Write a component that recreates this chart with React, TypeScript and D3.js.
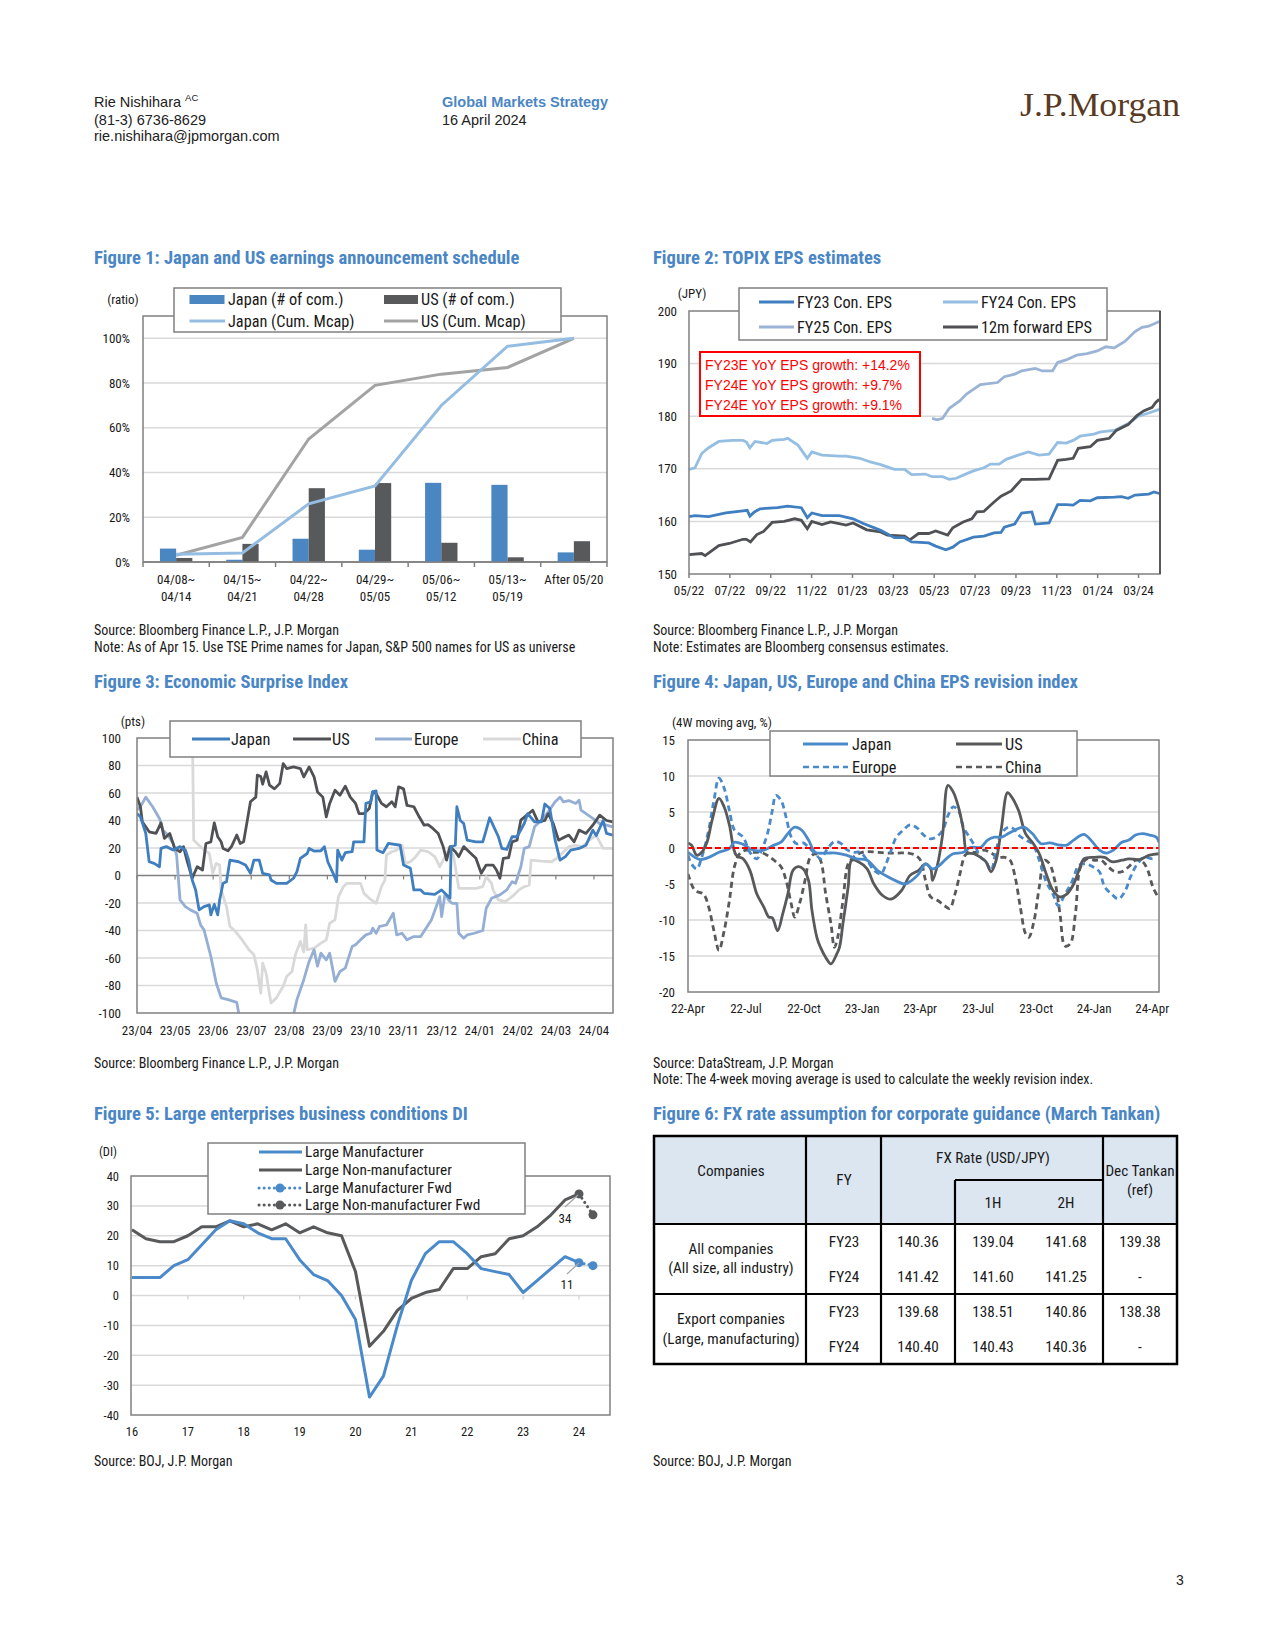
import React from 'react';
import * as d3 from 'd3';

const FONT = "'Liberation Sans Narrow','Arial Narrow','Roboto Condensed',sans-serif";
const WIDE = "'Liberation Sans',Arial,sans-serif";
const TITLE_BLUE = '#4a86c5';
const GRID = '#d9d9d9';
const BORDER = '#808080';
const LEG = 16.3;
const TICK = 13;
const SRC = 14;

// ---------- Figure 1 data ----------
const f1Categories = [['04/08~', '04/14'], ['04/15~', '04/21'], ['04/22~', '04/28'], ['04/29~', '05/05'], ['05/06~', '05/12'], ['05/13~', '05/19'], ['After 05/20']];
const f1JapanCount = [6, 1, 10.4, 5.5, 35.4, 34.5, 4.3];
const f1USCount = [1.8, 8.1, 33, 35.3, 8.6, 2.1, 9.3];
const f1JapanCum = [3.5, 4, 26, 34, 70, 96.5, 100];
const f1USCum = [3, 11, 55, 79, 84, 87, 100];
const f1YTicks = [0, 20, 40, 60, 80, 100];

// ---------- Figure 2 data (x = months since May-2022) ----------
const f2XLabels = ['05/22', '07/22', '09/22', '11/22', '01/23', '03/23', '05/23', '07/23', '09/23', '11/23', '01/24', '03/24'];
const f2YTicks = [150, 160, 170, 180, 190, 200];
const f2FY23: [number, number][] = [[0, 160.9], [0.29, 161.1], [0.96, 160.9], [1.8, 161.6], [2.64, 162], [2.85, 162.1], [2.98, 161], [3.2, 161.8], [3.48, 162.4], [4.33, 162.6], [4.83, 162.9], [5.5, 162.6], [5.79, 160.7], [6.01, 161.6], [6.51, 161.1], [7.36, 161.1], [8.03, 160.5], [8.53, 159.6], [9.38, 158.3], [10.05, 156.9], [10.55, 156.9], [10.89, 156.1], [11.73, 155.9], [12.07, 155.3], [12.57, 154.6], [12.91, 155.1], [13.25, 156.1], [13.92, 157], [14.43, 157.2], [14.93, 157.8], [15.27, 157.9], [15.43, 158.9], [15.94, 159.5], [16.28, 161.6], [16.78, 161.8], [16.95, 159.5], [17.62, 159.7], [18.04, 163.2], [18.46, 163.2], [18.8, 163.1], [19.14, 164], [19.64, 163.9], [19.98, 164.5], [20.82, 164.6], [21.16, 164.7], [21.49, 164.4], [21.83, 165], [22.5, 165.2], [22.76, 165.6], [23.01, 165.3]];
const f2FY24: [number, number][] = [[0, 169.9], [0.29, 170.2], [0.62, 172.9], [0.96, 174], [1.46, 175.2], [2.13, 175.4], [2.64, 175.4], [2.81, 175.1], [2.98, 174], [3.23, 175.2], [3.82, 174.8], [4.07, 175.4], [4.66, 175.6], [4.83, 175.8], [5.33, 174.5], [5.79, 172], [6.01, 173.2], [6.51, 172.6], [7.36, 172.4], [7.69, 172.4], [8.36, 172], [8.87, 171.3], [9.38, 170.8], [10.05, 169.9], [10.55, 169.9], [10.89, 168.9], [11.56, 169], [11.9, 168.5], [12.41, 168.5], [12.74, 168], [13.08, 168.2], [13.42, 168.8], [13.92, 169.6], [14.43, 170.2], [14.76, 170.9], [15.18, 170.9], [15.52, 171.8], [16.11, 172.6], [16.61, 173.2], [17.12, 172.6], [17.62, 172.8], [18.04, 175], [18.46, 174.9], [18.8, 175.4], [19.14, 176.2], [19.81, 176.6], [20.15, 177], [20.82, 177.3], [21.49, 178.6], [22, 180], [22.5, 180.6], [23.01, 181.3]];
const f2FY25: [number, number][] = [[11.9, 179.6], [12.15, 179.3], [12.41, 179.6], [12.74, 181.5], [13.25, 182.9], [13.58, 184.2], [14.26, 186], [15.1, 186.4], [15.43, 187.5], [15.94, 188], [16.28, 188.6], [16.95, 189.1], [17.29, 188.6], [17.79, 188.6], [18.04, 190.2], [18.46, 190.7], [18.97, 191.6], [19.48, 191.9], [19.98, 192.4], [20.4, 193.2], [20.82, 193], [21.33, 194.2], [21.83, 196.1], [22.17, 196.9], [22.5, 197.1], [23.01, 198]];
const f2Fwd: [number, number][] = [[0, 153.7], [0.62, 153.9], [0.79, 153.5], [1.46, 155.4], [1.97, 155.8], [2.64, 156.6], [2.81, 156.6], [3.01, 156.1], [3.32, 157.5], [3.65, 158.1], [4.07, 159.8], [4.66, 160], [5.17, 160.5], [5.5, 160.2], [5.79, 158.6], [6.01, 160], [6.51, 159.4], [6.93, 159.9], [7.69, 159.3], [8.03, 159.7], [8.7, 158.4], [9.38, 158], [9.71, 157.4], [10.55, 157.2], [10.81, 156.5], [11.23, 157.7], [11.73, 157.7], [12.07, 158.2], [12.66, 157.4], [12.91, 158.8], [13.42, 159.9], [13.84, 160.5], [14.09, 161.8], [14.43, 161.9], [14.93, 163.7], [15.27, 164.8], [15.77, 165.8], [16.28, 168], [16.95, 168], [17.62, 168.1], [18.04, 171.6], [18.46, 171.8], [18.8, 172], [19.05, 173.9], [19.64, 174.2], [19.98, 175.4], [20.57, 175.8], [20.91, 177.3], [21.49, 178.4], [21.92, 180.1], [22.25, 181], [22.67, 181.7], [22.84, 182.6], [23.01, 183.2]];
const f2Notes = ['FY23E YoY EPS growth: +14.2%', 'FY24E YoY EPS growth: +9.7%', 'FY24E YoY EPS growth: +9.1%'];

// ---------- Figure 3 data (x = months since Apr-2023) ----------
const f3XLabels = ['23/04', '23/05', '23/06', '23/07', '23/08', '23/09', '23/10', '23/11', '23/12', '24/01', '24/02', '24/03', '24/04'];
const f3YTicks = [-100, -80, -60, -40, -20, 0, 20, 40, 60, 80, 100];
const f3Japan: [number, number][] = [[0, 45], [0.09, 42.7], [0.23, 30.6], [0.32, 10], [0.45, 8.8], [0.59, 6.4], [0.63, 19.7], [0.77, 21], [0.95, 18.5], [1.13, 21], [1.27, 18.5], [1.36, 11], [1.45, -3.3], [1.54, -10.5], [1.63, -25], [1.76, -22.6], [1.9, -21.4], [1.94, -28.6], [2.03, -21], [2.12, -28.6], [2.17, -17.8], [2.26, -5.7], [2.35, -4.5], [2.44, 11.2], [2.67, 10], [2.85, 7.6], [2.98, 1.6], [3.07, 11.2], [3.21, 11.2], [3.3, 1.6], [3.48, 0.4], [3.52, -3.3], [3.66, -5.7], [3.93, -5.7], [4.11, -2], [4.2, 2.8], [4.29, 12.5], [4.47, 16], [4.52, 19.7], [4.65, 17.8], [4.83, 18], [4.92, 21], [5.01, 10], [5.15, 1.6], [5.24, -4.5], [5.27, 18.5], [5.38, 11.2], [5.47, 16.6], [5.65, 17.3], [5.69, 24.5], [5.96, 24.5], [6.01, 52.4], [6.14, 53.6], [6.19, 60.8], [6.28, 61.5], [6.3, 18.5], [6.46, 16.6], [6.6, 23.3], [6.91, 22], [7, 7.6], [7.18, 5.2], [7.27, -10.5], [7.45, -10.5], [7.54, -13], [7.82, -13.7], [8, -10.5], [8.09, -13], [8.22, -16.6], [8.25, 21], [8.36, 22], [8.4, 50], [8.49, 40], [8.58, 37.8], [8.67, 25.7], [8.9, 24.5], [9.08, 24.5], [9.17, 33], [9.26, 42], [9.35, 36.6], [9.49, 28.2], [9.58, 19.7], [9.71, 19], [9.85, 28.2], [9.98, 28.2], [10.17, 37.8], [10.26, 45], [10.44, 39], [10.62, 39], [10.71, 52], [10.84, 48.7], [10.98, 25.7], [11.11, 11.2], [11.25, 13.7], [11.39, 18.5], [11.61, 19.7], [11.79, 22], [11.97, 33], [12.06, 29], [12.24, 40], [12.33, 30.6], [12.49, 29.4]];
const f3US: [number, number][] = [[0, 57], [0.09, 50], [0.14, 39], [0.32, 31.8], [0.5, 30.6], [0.63, 38.3], [0.72, 27], [0.86, 30.6], [0.99, 19.7], [1.13, 17.3], [1.22, 21], [1.31, 11.2], [1.45, -2], [1.58, 6.4], [1.72, 4], [1.81, 23.3], [1.94, 24.5], [2.03, 38.3], [2.12, 28.2], [2.21, 24.5], [2.26, 19.7], [2.39, 18], [2.48, 21], [2.62, 29.4], [2.71, 23.3], [2.8, 24.5], [2.89, 39], [2.98, 53.6], [3.12, 57], [3.16, 73], [3.25, 72], [3.3, 66.4], [3.39, 75.3], [3.48, 65.7], [3.61, 63], [3.75, 67], [3.84, 81.4], [3.93, 77.8], [4.11, 79], [4.29, 77.8], [4.38, 71.7], [4.52, 79], [4.65, 71.7], [4.74, 60.8], [4.88, 57], [4.97, 42.7], [5.06, 52.4], [5.2, 62], [5.33, 58.4], [5.47, 65], [5.6, 57], [5.74, 52.4], [5.83, 45], [5.96, 45], [6.1, 48.7], [6.19, 60.8], [6.28, 59.6], [6.42, 52.4], [6.55, 50], [6.69, 53.6], [6.78, 50], [6.87, 64.5], [7, 63], [7.09, 51], [7.27, 50], [7.41, 42.7], [7.54, 36.6], [7.64, 37], [7.77, 34.2], [7.91, 30.6], [8.04, 21], [8.13, 11.2], [8.22, 21], [8.36, 17.3], [8.45, 13.7], [8.58, 21], [8.72, 17.3], [8.9, 12.5], [9.04, 1.6], [9.17, 7.6], [9.35, 7.6], [9.44, 4], [9.53, -2], [9.62, 12.5], [9.76, 13], [9.85, 24.5], [9.98, 25.7], [10.08, 40.3], [10.26, 44.4], [10.39, 47.5], [10.53, 39], [10.71, 40], [10.8, 45], [10.93, 37.8], [11.07, 25.7], [11.16, 27], [11.34, 29.4], [11.48, 24.5], [11.61, 33], [11.79, 30.6], [11.97, 36.6], [12.15, 43.9], [12.33, 40], [12.49, 39]];
const f3Europe: [number, number][] = [[0, 47.5], [0.14, 52.4], [0.23, 57], [0.41, 50], [0.59, 41.5], [0.68, 33], [0.81, 29.4], [0.95, 23.3], [1.04, 14.9], [1.13, -17.8], [1.27, -22.6], [1.4, -25], [1.58, -27.5], [1.67, -36], [1.76, -39.5], [1.94, -58.9], [2.08, -78.2], [2.21, -89], [2.39, -90.3], [2.62, -92.3], [2.71, -106], [4.07, -106], [4.2, -90.3], [4.38, -75.8], [4.52, -62.5], [4.65, -54], [4.74, -66], [4.83, -56.5], [4.97, -61.3], [5.06, -56.5], [5.2, -77], [5.33, -69.8], [5.47, -67.4], [5.65, -51.6], [5.74, -50.4], [5.87, -46.8], [6.01, -43.2], [6.14, -42], [6.19, -38.3], [6.28, -42], [6.37, -37], [6.55, -36], [6.73, -27.5], [6.82, -43.2], [6.96, -42], [7.09, -46.8], [7.27, -44.4], [7.45, -44.4], [7.59, -38.3], [7.73, -32.3], [7.86, -22.6], [7.95, -15.4], [8, -29.9], [8.09, -13], [8.18, -17.8], [8.27, -20.2], [8.4, -20.2], [8.45, -42], [8.58, -45.6], [8.67, -43.2], [8.86, -42], [9.08, -40], [9.17, -23.8], [9.31, -16.6], [9.53, -14.1], [9.71, -10.5], [9.85, -4.5], [9.94, -5.7], [10.08, 6.4], [10.17, 19.7], [10.3, 21], [10.44, 35.4], [10.62, 40.3], [10.8, 46.3], [10.98, 53.6], [11.11, 57], [11.2, 53.6], [11.34, 54.5], [11.52, 52.4], [11.61, 54.8], [11.66, 47.5], [11.79, 45], [11.97, 41.5], [12.15, 37.8], [12.33, 36.6], [12.49, 35.4]];
const f3China: [number, number][] = [[1.45, 115], [1.49, 25.7], [1.63, 22], [1.76, 18.5], [1.9, 16], [1.99, 1.6], [2.08, 8.8], [2.17, 7.6], [2.21, -10.5], [2.35, -22.6], [2.44, -37], [2.58, -40.5], [2.76, -46.8], [2.94, -54], [3.07, -57.7], [3.16, -68.5], [3.25, -85.5], [3.3, -63.7], [3.39, -71], [3.46, -83], [3.52, -92.7], [3.66, -89], [3.84, -80.6], [3.93, -73.4], [4.07, -69.8], [4.16, -57.7], [4.29, -48], [4.38, -55.6], [4.43, -36], [4.47, -54], [4.65, -52.8], [4.83, -49.2], [4.97, -46.8], [5.06, -34.7], [5.2, -32.3], [5.29, -15.4], [5.42, -8.1], [5.51, -5.7], [5.65, -5.7], [5.87, -5.7], [5.96, -13], [6.1, -16.6], [6.28, -20.2], [6.42, -8.1], [6.51, -3.3], [6.55, 14.9], [6.69, 17.3], [6.82, 18.5], [6.96, 22], [7.05, 8.8], [7.18, 10], [7.32, 13.7], [7.45, 18.5], [7.64, 17.3], [7.82, 13.7], [7.95, 6.4], [8.04, 11.2], [8.18, 18.5], [8.31, 14.9], [8.45, -9.3], [8.63, -9.3], [8.9, -9.3], [9.08, -8.1], [9.17, -0.8], [9.31, -5.7], [9.35, -10.5], [9.49, -17.8], [9.67, -19], [9.85, -15.4], [10.03, -10.5], [10.17, -8.1], [10.3, -6.9], [10.35, 11.2], [10.62, 10.5], [10.89, 10], [11.02, 12.5], [11.16, 16], [11.34, 21], [11.52, 22], [11.7, 21], [11.88, 25.7], [12.06, 29.4], [12.15, 24.5], [12.24, 19.7], [12.49, 19.7]];

// ---------- Figure 4 data (x = months since Apr-2022) ----------
const f4XLabels = ['22-Apr', '22-Jul', '22-Oct', '23-Jan', '23-Apr', '23-Jul', '23-Oct', '24-Jan', '24-Apr'];
const f4YTicks = [-20, -15, -10, -5, 0, 5, 10, 15];
const f4Japan: [number, number][] = [[0, -0.6], [0.36, -1.3], [0.62, -1.6], [1.07, -1.3], [1.6, -0.6], [2.14, -0.1], [2.4, 0.8], [2.85, 0.5], [3.38, -0.3], [3.92, -0.3], [4.45, 0.4], [4.81, 0.8], [5.16, 2], [5.52, 2.9], [5.87, 2.5], [6.23, 1.1], [6.59, -0.6], [7.12, -0.7], [7.66, -0.7], [8.19, -1], [8.72, -1.5], [9.26, -1.7], [9.79, -3.1], [10.33, -4], [10.86, -4.7], [11.22, -5], [11.57, -4.5], [11.93, -3.6], [12.28, -2.2], [12.64, -2.9], [13, -2.4], [13.35, -1.5], [13.71, -0.8], [14.24, -0.6], [14.6, 0.1], [15.13, 0.1], [15.49, 1.1], [15.84, 1.5], [16.2, 1.5], [16.56, 2], [16.91, 2.5], [17.36, 2.9], [17.8, 2], [18.25, 0.6], [18.69, 0.7], [19.23, 0.4], [19.58, 0.4], [19.94, 1.1], [20.47, 1.9], [20.92, 0.8], [21.27, -0.3], [21.63, -0.7], [21.99, -0.3], [22.43, 0.8], [22.79, 1.1], [23.14, 1.8], [23.5, 2], [23.86, 1.8], [24.21, 1.5], [24.35, 0.8]];
const f4US: [number, number][] = [[0, 0.7], [0.18, 0.4], [0.45, -1], [0.71, -0.6], [0.98, 0.8], [1.25, 3.9], [1.6, 6.9], [1.87, 5.7], [2.14, 3.2], [2.49, -1], [2.85, -1.5], [3.2, -3.1], [3.56, -6.4], [3.92, -8.2], [4.18, -9.6], [4.36, -9.7], [4.63, -11.5], [4.9, -9.1], [5.16, -6.4], [5.43, -3.1], [5.7, -2.6], [5.96, -2.9], [6.23, -4.5], [6.41, -8.7], [6.68, -12.6], [6.85, -13.8], [7.12, -15.2], [7.39, -16.1], [7.66, -14.9], [7.83, -13.8], [8.01, -10.5], [8.28, -5.4], [8.46, -1.7], [8.81, -1.9], [9.26, -2.9], [9.61, -5], [10.06, -6.6], [10.5, -7.1], [11.04, -5.9], [11.48, -3.8], [11.93, -3.1], [12.28, -2.2], [12.55, -2.9], [12.64, -4.5], [12.91, -2.2], [13.17, 2], [13.44, 8.7], [13.71, 7.8], [13.98, 5.7], [14.24, 2.5], [14.42, -0.6], [14.78, -0.8], [15.13, -1.3], [15.4, -1.9], [15.67, -3.3], [15.93, -1.7], [16.2, 2.7], [16.52, 7.7], [16.73, 7.1], [17.09, 5.2], [17.45, 2], [17.8, 0.8], [18.16, -0.8], [18.52, -3.6], [18.87, -5.9], [19.23, -6.8], [19.58, -6.4], [19.94, -5], [20.21, -3.1], [20.47, -1.5], [21.01, -1.3], [21.54, -1.3], [21.9, -1.9], [22.43, -1.7], [22.79, -1.5], [23.32, -1.6], [23.86, -1], [24.35, -0.8]];
const f4Europe: [number, number][] = [[0, -1], [0.18, -2.2], [0.45, -2.9], [0.71, -1.3], [1.07, 2.5], [1.34, 6.6], [1.6, 9.7], [1.87, 8.3], [2.14, 5.2], [2.4, 2.5], [2.85, 1.5], [3.2, -0.6], [3.56, -1.5], [3.83, -0.1], [4.09, 1.8], [4.36, 5.2], [4.54, 7.3], [4.81, 6.6], [5.07, 4.3], [5.34, 1.5], [5.61, 0.6], [5.96, 0.7], [6.23, 0.1], [6.59, -0.8], [6.85, -1.5], [7.21, -0.1], [7.57, 0.9], [7.92, 0.6], [8.19, -0.2], [8.55, -0.6], [8.9, -0.6], [9.26, -1.7], [9.61, -3.1], [9.97, -3.6], [10.24, -2.2], [10.5, -0.3], [10.77, 1.5], [11.13, 2.5], [11.48, 3.2], [11.84, 2.8], [12.11, 2], [12.46, 1.3], [12.82, 1.5], [13.17, 2.5], [13.44, 4.5], [13.71, 5.7], [13.98, 5.2], [14.24, 2.9], [14.6, 1.3], [14.87, 0.1], [15.13, -1.3], [15.4, -1.9], [15.67, -3.1], [15.93, -0.3], [16.2, 2], [16.56, 2.9], [16.82, 2.7], [17.09, 1.8], [17.45, 1.1], [17.8, 0.6], [18.16, -1.7], [18.52, -4.7], [18.87, -6.4], [19.14, -8], [19.49, -6.4], [19.85, -4.7], [20.21, -2.4], [20.56, -2.2], [20.92, -2.6], [21.27, -3.3], [21.54, -5.4], [21.9, -6.4], [22.25, -7.1], [22.61, -5.9], [22.88, -4], [23.23, -2.2], [23.59, -1.3], [24.03, -1.5], [24.21, -1.3]];
const f4China: [number, number][] = [[0, -3.6], [0.36, -5.9], [0.8, -6.4], [1.07, -8.2], [1.34, -11.5], [1.6, -14.2], [1.87, -11.5], [2.14, -7.3], [2.4, -2.6], [2.67, -0.8], [3.03, -0.3], [3.38, -0.6], [3.74, -0.6], [4.09, -1], [4.45, -1.7], [4.81, -2.6], [5.07, -4.5], [5.34, -7.8], [5.52, -9.6], [5.79, -7.5], [6.05, -4.5], [6.32, -1.3], [6.59, -0.8], [6.85, -1.7], [7.12, -6.4], [7.39, -10.5], [7.57, -13.8], [7.74, -12.4], [8.01, -7.3], [8.28, -2.2], [8.55, -1.3], [8.9, -0.7], [9.26, -0.5], [9.79, -0.6], [10.33, -0.7], [10.86, -0.7], [11.39, -0.7], [11.75, -1], [12.02, -1.7], [12.28, -4.5], [12.55, -6.8], [12.91, -7.3], [13.26, -8], [13.53, -8.4], [13.8, -6.4], [14.06, -3.6], [14.33, -1], [14.6, -0.6], [14.96, -0.6], [15.31, -0.3], [15.67, -0.7], [16.02, -1.3], [16.38, -1.3], [16.65, -1.7], [16.91, -4], [17.18, -8.2], [17.45, -11.9], [17.62, -12.4], [17.89, -10.1], [18.16, -5.4], [18.43, -1.7], [18.69, -2.2], [18.96, -4.5], [19.23, -9.1], [19.49, -13.6], [19.76, -13.3], [20.03, -9.1], [20.3, -2.6], [20.65, -1.5], [21.01, -1.7], [21.36, -1.7], [21.72, -2.6], [22.08, -3.3], [22.43, -3.3], [22.79, -2.6], [23.14, -1.7], [23.5, -1.9], [23.77, -3.1], [24.03, -5.4], [24.3, -6.8]];

// ---------- Figure 5 data (quarterly, Mar-2016 .. Mar-2024) ----------
const f5XLabels = ['16', '17', '18', '19', '20', '21', '22', '23', '24'];
const f5YTicks = [-40, -30, -20, -10, 0, 10, 20, 30, 40];
const f5Mfr = [6, 6, 6, 10, 12, 17, 22, 25, 24, 21, 19, 19, 12, 7, 5, 0, -8, -34, -27, -10, 5, 14, 18, 18, 14, 9, 8, 7, 1, 5, 9, 13, 11];
const f5NonMfr = [22, 19, 18, 18, 20, 23, 23, 25, 23, 24, 22, 24, 21, 23, 21, 20, 8, -17, -12, -5, -1, 1, 2, 9, 9, 13, 14, 19, 20, 23, 27, 32, 34];
const f5MfrFwd = [11, 10];
const f5NonMfrFwd = [34, 27];

// ---------- Figure 6 table ----------
const f6Groups = [['All companies', '(All size, all industry)'], ['Export companies', '(Large, manufacturing)']];
const f6FY = ['FY23', 'FY24'];
const f6Rates = [
  [['140.36', '139.04', '141.68', '139.38'], ['141.42', '141.60', '141.25', '-']],
  [['139.68', '138.51', '140.86', '138.38'], ['140.40', '140.43', '140.36', '-']],
];

type Pt = [number, number];

function Title({ x, y, children }: { x: number; y: number; children: React.ReactNode }) {
  return <text x={x} y={y} fontFamily={FONT} fontWeight="bold" fontSize={18.6} fill={TITLE_BLUE}>{children}</text>;
}
function Small({ x, y, children, anchor = 'start', size = TICK }: any) {
  return <text x={x} y={y} fontFamily={FONT} fontSize={size} fill="#1a1a1a" textAnchor={anchor}>{children}</text>;
}

function Header() {
  return (
    <g fontFamily={WIDE} fontSize={14.5} fill="#222">
      <text x={94} y={107}>Rie Nishihara <tspan fontSize={9.5} dy={-6}>AC</tspan></text>
      <text x={94} y={125}>(81-3) 6736-8629</text>
      <text x={94} y={141}>rie.nishihara@jpmorgan.com</text>
      <text x={442} y={107} fontWeight="bold" fill={TITLE_BLUE}>Global Markets Strategy</text>
      <text x={442} y={125}>16 April 2024</text>
      <text x={1020} y={116} fontFamily="'Liberation Serif','DejaVu Serif',serif" fontSize={33} fill="#5a3a22" textLength={160} lengthAdjust="spacingAndGlyphs">J.P.Morgan</text>
      <text x={1176} y={1585} fontSize={14}>3</text>
    </g>
  );
}

function Fig1() {
  const L = 143, R = 607, T = 316, B = 562;
  const x = d3.scaleBand<number>().domain(d3.range(f1Categories.length)).range([L, R]);
  const y = d3.scaleLinear().domain([0, 110]).range([B, T]);
  const bw = 16.2;
  const cx = (i: number) => (x(i) as number) + x.bandwidth() / 2;
  const line = d3.line<number>().x((_, i) => cx(i)).y(d => y(d));
  return (
    <g>
      <Title x={94} y={264}>Figure 1: Japan and US earnings announcement schedule</Title>
      {f1YTicks.filter(t => t > 0).map(t => <line key={t} x1={L} x2={R} y1={y(t)} y2={y(t)} stroke={GRID} strokeWidth={1.5} />)}
      <rect x={L} y={T} width={R - L} height={B - T} fill="none" stroke={BORDER} strokeWidth={1.5} />
      {f1JapanCount.map((v, i) => <rect key={'j' + i} x={cx(i) - bw} y={y(v)} width={bw} height={B - y(v)} fill="#4a86c1" />)}
      {f1USCount.map((v, i) => <rect key={'u' + i} x={cx(i)} y={y(v)} width={bw} height={B - y(v)} fill="#58595b" />)}
      <path d={line(f1USCum) as string} fill="none" stroke="#a3a3a3" strokeWidth={3} />
      <path d={line(f1JapanCum) as string} fill="none" stroke="#95bde2" strokeWidth={3} />
      <line x1={L} x2={R} y1={B} y2={B} stroke={BORDER} strokeWidth={1.5} />
      {d3.range(f1Categories.length + 1).map(i => { const xx = L + i * x.bandwidth(); return <line key={i} x1={xx} x2={xx} y1={B} y2={B + 5} stroke={BORDER} strokeWidth={1.5} />; })}
      {f1YTicks.map(t => <Small key={t} x={130} y={y(t) + 4.5} anchor="end">{t + '%'}</Small>)}
      <Small x={123} y={304} anchor="middle">(ratio)</Small>
      {f1Categories.map((c, i) => c.map((s, k) => <Small key={i + '-' + k} x={cx(i)} y={584 + k * 17} anchor="middle">{s}</Small>))}
      <rect x={174} y={288} width={387} height={44} fill="#fff" stroke={BORDER} strokeWidth={1.5} />
      <rect x={189.5} y={295} width={35} height={9} fill="#4a86c1" />
      <Small x={228} y={305} size={LEG}>Japan (# of com.)</Small>
      <rect x={384} y={295} width={34} height={9} fill="#58595b" />
      <Small x={421} y={305} size={LEG}>US (# of com.)</Small>
      <line x1={189.5} x2={225} y1={321} y2={321} stroke="#95bde2" strokeWidth={3} />
      <Small x={228} y={327} size={LEG}>Japan (Cum. Mcap)</Small>
      <line x1={384} x2={418} y1={321} y2={321} stroke="#a3a3a3" strokeWidth={3} />
      <Small x={421} y={327} size={LEG}>US (Cum. Mcap)</Small>
      <Small x={94} y={635} size={SRC}>Source:  Bloomberg Finance L.P., J.P. Morgan</Small>
      <Small x={94} y={652} size={SRC}>Note: As of Apr 15. Use TSE Prime names for Japan, S&amp;P 500 names for US as universe</Small>
    </g>
  );
}

function Fig2() {
  const L = 689, R = 1160, T = 311, B = 574;
  const x = d3.scaleLinear().domain([0, 23.05]).range([L, R]);
  const y = d3.scaleLinear().domain([150, 200]).range([B, T]);
  const line = d3.line<Pt>().x(d => x(d[0])).y(d => y(d[1]));
  return (
    <g>
      <Title x={653} y={264}>Figure 2: TOPIX EPS estimates</Title>
      {f2YTicks.filter(t => t > 150 && t < 200).map(t => <line key={t} x1={L} x2={R} y1={y(t)} y2={y(t)} stroke={GRID} strokeWidth={1.5} />)}
      <path d={line(f2FY24) as string} fill="none" stroke="#95bee3" strokeWidth={2.8} />
      <path d={line(f2FY25) as string} fill="none" stroke="#9bb4d6" strokeWidth={2.8} />
      <path d={line(f2Fwd) as string} fill="none" stroke="#505154" strokeWidth={2.8} />
      <path d={line(f2FY23) as string} fill="none" stroke="#3f7ebf" strokeWidth={2.8} />
      <rect x={L} y={T} width={R - L} height={B - T} fill="none" stroke={BORDER} strokeWidth={1.5} />
      <line x1={R} x2={R} y1={T} y2={B} stroke="#595959" strokeWidth={2} />
      {f2XLabels.map((s, i) => <g key={s}><line x1={x(i * 2)} x2={x(i * 2)} y1={B} y2={B + 4} stroke={BORDER} strokeWidth={1.5} /><Small x={x(i * 2)} y={595} anchor="middle">{s}</Small></g>)}
      {f2YTicks.map(t => <Small key={t} x={677} y={y(t) + 4.5} anchor="end">{t}</Small>)}
      <Small x={692} y={298} anchor="middle">(JPY)</Small>
      <rect x={739} y={288} width={368} height={52} fill="#fff" stroke={BORDER} strokeWidth={1.5} />
      <line x1={759} x2={794} y1={302} y2={302} stroke="#3f7ebf" strokeWidth={3} />
      <Small x={797} y={308} size={LEG}>FY23 Con. EPS</Small>
      <line x1={943} x2={978} y1={302} y2={302} stroke="#95bee3" strokeWidth={3} />
      <Small x={981} y={308} size={LEG}>FY24 Con. EPS</Small>
      <line x1={759} x2={794} y1={327} y2={327} stroke="#9bb4d6" strokeWidth={3} />
      <Small x={797} y={333} size={LEG}>FY25 Con. EPS</Small>
      <line x1={943} x2={978} y1={327} y2={327} stroke="#505154" strokeWidth={3} />
      <Small x={981} y={333} size={LEG}>12m forward EPS</Small>
      <rect x={700} y={352} width={220} height={64} fill="#fff" stroke="#ff0000" strokeWidth={2} />
      {f2Notes.map((s, i) => <text key={i} x={705} y={370 + i * 20} fontFamily={WIDE} fontSize={14} fill="#ff0000">{s}</text>)}
      <Small x={653} y={635} size={SRC}>Source: Bloomberg Finance L.P., J.P. Morgan</Small>
      <Small x={653} y={652} size={SRC}>Note: Estimates are Bloomberg consensus estimates.</Small>
    </g>
  );
}

function Fig3() {
  const L = 137, R = 613, T = 738, B = 1013;
  const x = d3.scaleLinear().domain([0, 12.5]).range([L, R]);
  const y = d3.scaleLinear().domain([-100, 100]).range([B, T]);
  const line = d3.line<Pt>().x(d => x(d[0])).y(d => y(d[1]));
  return (
    <g>
      <Title x={94} y={688}>Figure 3: Economic Surprise Index</Title>
      <defs><clipPath id="c3"><rect x={L} y={T} width={R - L} height={B - T} /></clipPath></defs>
      {f3YTicks.filter(t => t !== 0 && Math.abs(t) < 100).map(t => <line key={t} x1={L} x2={R} y1={y(t)} y2={y(t)} stroke={GRID} strokeWidth={1.5} />)}
      <line x1={L} x2={R} y1={y(0)} y2={y(0)} stroke={BORDER} strokeWidth={1.5} />
      {f3XLabels.map((_, i) => <line key={i} x1={x(i)} x2={x(i)} y1={y(0)} y2={y(0) + 4} stroke={BORDER} strokeWidth={1.2} />)}
      <g clipPath="url(#c3)" fill="none" strokeWidth={2.8} strokeLinejoin="round">
        <path d={line(f3China) as string} stroke="#d9d9d9" />
        <path d={line(f3Europe) as string} stroke="#95aed4" />
        <path d={line(f3US) as string} stroke="#505154" />
        <path d={line(f3Japan) as string} stroke="#3f7ebf" />
      </g>
      <rect x={L} y={T} width={R - L} height={B - T} fill="none" stroke={BORDER} strokeWidth={1.5} />
      {f3XLabels.map((s, i) => <Small key={s} x={x(i)} y={1035} anchor="middle">{s}</Small>)}
      {f3YTicks.map(t => <Small key={t} x={121} y={y(t) + 4.5} anchor="end">{t}</Small>)}
      <Small x={133} y={726} anchor="middle">(pts)</Small>
      <rect x={170} y={721} width={411} height={36} fill="#fff" stroke={BORDER} strokeWidth={1.5} />
      <line x1={192} x2={230} y1={739} y2={739} stroke="#3f7ebf" strokeWidth={3} />
      <Small x={231} y={745} size={LEG}>Japan</Small>
      <line x1={293} x2={331} y1={739} y2={739} stroke="#505154" strokeWidth={3} />
      <Small x={332} y={745} size={LEG}>US</Small>
      <line x1={375} x2={412} y1={739} y2={739} stroke="#95aed4" strokeWidth={3} />
      <Small x={414} y={745} size={LEG}>Europe</Small>
      <line x1={483} x2={521} y1={739} y2={739} stroke="#d9d9d9" strokeWidth={3} />
      <Small x={522} y={745} size={LEG}>China</Small>
      <Small x={94} y={1068} size={SRC}>Source: Bloomberg Finance L.P., J.P. Morgan</Small>
    </g>
  );
}

function Fig4() {
  const L = 688, R = 1159, T = 740, B = 992;
  const x = d3.scaleLinear().domain([0, 24.35]).range([L, R]);
  const y = d3.scaleLinear().domain([-20, 15]).range([B, T]);
  const line = d3.line<Pt>().x(d => x(d[0])).y(d => y(d[1])).curve(d3.curveCatmullRom.alpha(0.5));
  return (
    <g>
      <Title x={653} y={688}>Figure 4: Japan, US, Europe and China EPS revision index</Title>
      <defs><clipPath id="c4"><rect x={L} y={T} width={R - L} height={B - T} /></clipPath></defs>
      {f4YTicks.filter(t => t > -20 && t < 15).map(t => <line key={t} x1={L} x2={R} y1={y(t)} y2={y(t)} stroke={GRID} strokeWidth={1.5} />)}
      <g clipPath="url(#c4)" fill="none" strokeWidth={2.8} strokeLinejoin="round">
        <path d={line(f4China) as string} stroke="#58595b" strokeDasharray="6,4" />
        <path d={line(f4Europe) as string} stroke="#4a8aca" strokeDasharray="6,4" />
        <path d={line(f4US) as string} stroke="#58595b" />
        <path d={line(f4Japan) as string} stroke="#4a8aca" />
      </g>
      <line x1={L} x2={R} y1={y(0)} y2={y(0)} stroke="#ff0000" strokeWidth={2} strokeDasharray="6,3" />
      <rect x={L} y={T} width={R - L} height={B - T} fill="none" stroke={BORDER} strokeWidth={1.5} />
      {f4XLabels.map((s, i) => <Small key={s} x={x(i * 3)} y={1013} anchor="middle">{s}</Small>)}
      {f4YTicks.map(t => <Small key={t} x={675} y={y(t) + 4.5} anchor="end">{t}</Small>)}
      <Small x={672} y={727}>(4W moving avg, %)</Small>
      <rect x={770} y={731} width={307} height={45} fill="#fff" stroke={BORDER} strokeWidth={1.5} />
      <line x1={803} x2={848} y1={744} y2={744} stroke="#4a8aca" strokeWidth={3} />
      <Small x={852} y={750} size={LEG}>Japan</Small>
      <line x1={956} x2={1002} y1={744} y2={744} stroke="#58595b" strokeWidth={3} />
      <Small x={1005} y={750} size={LEG}>US</Small>
      <line x1={803} x2={848} y1={767} y2={767} stroke="#4a8aca" strokeWidth={2.5} strokeDasharray="6,4" />
      <Small x={852} y={773} size={LEG}>Europe</Small>
      <line x1={956} x2={1002} y1={767} y2={767} stroke="#58595b" strokeWidth={2.5} strokeDasharray="6,4" />
      <Small x={1005} y={773} size={LEG}>China</Small>
      <Small x={653} y={1068} size={SRC}>Source: DataStream, J.P. Morgan</Small>
      <Small x={653} y={1084} size={SRC}>Note: The 4-week moving average is used to calculate the weekly revision index.</Small>
    </g>
  );
}

function Fig5() {
  const L = 131, R = 610, T = 1176, B = 1415;
  const x = d3.scaleLinear().domain([-0.07, 34.22]).range([L, R]);
  const y = d3.scaleLinear().domain([-40, 40]).range([B, T]);
  const line = d3.line<number>().x((_, i) => x(i)).y(d => y(d));
  const fwd = d3.line<number>().x((_, i) => x(32 + i)).y(d => y(d));
  return (
    <g>
      <Title x={94} y={1120}>Figure 5: Large enterprises business conditions DI</Title>
      {f5YTicks.filter(t => t > -40 && t < 40).map(t => <line key={t} x1={L} x2={R} y1={y(t)} y2={y(t)} stroke={GRID} strokeWidth={1.5} />)}
      {f5XLabels.map((_, i) => i > 0 && <line key={i} x1={x(i * 4)} x2={x(i * 4)} y1={y(0)} y2={y(0) + 4} stroke={GRID} strokeWidth={1.5} />)}
      <g fill="none" strokeWidth={3} strokeLinejoin="round">
        <path d={line(f5NonMfr) as string} stroke="#58595b" />
        <path d={line(f5Mfr) as string} stroke="#4a8aca" />
        <path d={fwd(f5NonMfrFwd) as string} stroke="#58595b" strokeDasharray="0.1,5" strokeLinecap="round" />
        <path d={fwd(f5MfrFwd) as string} stroke="#4a8aca" strokeDasharray="0.1,5" strokeLinecap="round" />
      </g>
      {f5NonMfrFwd.map((v, i) => <circle key={'n' + i} cx={x(32 + i)} cy={y(v)} r={4.5} fill="#58595b" />)}
      {f5MfrFwd.map((v, i) => <circle key={'m' + i} cx={x(32 + i)} cy={y(v)} r={4.5} fill="#4a8aca" />)}
      <rect x={L} y={T} width={R - L} height={B - T} fill="none" stroke={BORDER} strokeWidth={1.5} />
      <line x1={565} y1={1207} x2={578} y2={1195} stroke="#a6a6a6" strokeWidth={1.2} />
      <line x1={567} y1={1274} x2={579} y2={1263} stroke="#a6a6a6" strokeWidth={1.2} />
      <Small x={565} y={1223} anchor="middle">{String(f5NonMfrFwd[0])}</Small>
      <Small x={567} y={1289} anchor="middle">{String(f5MfrFwd[0])}</Small>
      {f5XLabels.map((s, i) => <Small key={s} x={x(i * 4)} y={1436} anchor="middle" size={12.5}>{s}</Small>)}
      {f5YTicks.map(t => <Small key={t} x={119} y={y(t) + 4.5} anchor="end" size={12.5}>{t}</Small>)}
      <Small x={108} y={1156} anchor="middle" size={12.5}>(DI)</Small>
      <rect x={208} y={1143} width={317} height={71} fill="#fff" stroke={BORDER} strokeWidth={1.5} />
      <line x1={259} x2={302} y1={1152} y2={1152} stroke="#4a8aca" strokeWidth={3} />
      <Small x={305} y={1157} size={15.3}>Large Manufacturer</Small>
      <line x1={259} x2={302} y1={1170} y2={1170} stroke="#58595b" strokeWidth={3} />
      <Small x={305} y={1175} size={15.3}>Large Non-manufacturer</Small>
      <line x1={259} x2={302} y1={1188} y2={1188} stroke="#4a8aca" strokeWidth={3} strokeDasharray="0.1,5" strokeLinecap="round" />
      <circle cx={280} cy={1188} r={4.5} fill="#4a8aca" />
      <Small x={305} y={1193} size={15.3}>Large Manufacturer Fwd</Small>
      <line x1={259} x2={302} y1={1205} y2={1205} stroke="#58595b" strokeWidth={3} strokeDasharray="0.1,5" strokeLinecap="round" />
      <circle cx={280} cy={1205} r={4.5} fill="#58595b" />
      <Small x={305} y={1210} size={15.3}>Large Non-manufacturer Fwd</Small>
      <Small x={94} y={1466} size={SRC}>Source: BOJ, J.P. Morgan</Small>
    </g>
  );
}

function Fig6() {
  const X0 = 654, X1 = 1177, Y0 = 1136, Y1 = 1364, YH = 1224, YM = 1294, YS = 1180;
  const cols = [806, 881, 955, 1103];
  const centers = [918, 993, 1066, 1140];
  const rowY = [[1247, 1282], [1317, 1352]];
  const groupY = [[1254, 1273], [1324, 1344]];
  return (
    <g fontFamily={FONT}>
      <Title x={653} y={1120}>Figure 6: FX rate assumption for corporate guidance (March Tankan)</Title>
      <rect x={X0} y={Y0} width={X1 - X0} height={YH - Y0} fill="#dce6f1" />
      <g stroke="#000" strokeWidth={2.2}>
        <rect x={X0} y={Y0} width={X1 - X0} height={Y1 - Y0} fill="none" strokeWidth={2.5} />
        <line x1={X0} x2={X1} y1={YH} y2={YH} />
        <line x1={X0} x2={X1} y1={YM} y2={YM} />
        <line x1={cols[2]} x2={cols[3]} y1={YS} y2={YS} />
        <line x1={cols[0]} x2={cols[0]} y1={Y0} y2={Y1} />
        <line x1={cols[1]} x2={cols[1]} y1={Y0} y2={Y1} />
        <line x1={cols[2]} x2={cols[2]} y1={YS} y2={Y1} />
        <line x1={cols[3]} x2={cols[3]} y1={Y0} y2={Y1} />
      </g>
      <g fontSize={15.2} fill="#1a1a1a" textAnchor="middle">
        <text x={731} y={1176}>Companies</text>
        <text x={844} y={1185}>FY</text>
        <text x={993} y={1163}>FX Rate (USD/JPY)</text>
        <text x={993} y={1208}>1H</text>
        <text x={1066} y={1208}>2H</text>
        <text x={1140} y={1176}>Dec Tankan</text>
        <text x={1140} y={1195}>(ref)</text>
        {f6Groups.map((g, gi) => g.map((s, k) => <text key={gi + '-' + k} x={731} y={groupY[gi][k]}>{s}</text>))}
        {f6Rates.map((grp, gi) => grp.map((row, ri) => (
          <g key={gi + '-' + ri}>
            <text x={844} y={rowY[gi][ri]}>{f6FY[ri]}</text>
            {row.map((v, ci) => <text key={ci} x={centers[ci]} y={rowY[gi][ri]}>{v}</text>)}
          </g>
        )))}
      </g>
      <Small x={653} y={1466} size={SRC}>Source: BOJ, J.P. Morgan</Small>
    </g>
  );
}

export default function App() {
  return (
    <svg width={1275} height={1650} style={{ position: 'absolute', left: 0, top: 0, background: '#fff' }}>
      <rect width={1275} height={1650} fill="#fff" />
      <Header />
      <Fig1 />
      <Fig2 />
      <Fig3 />
      <Fig4 />
      <Fig5 />
      <Fig6 />
    </svg>
  );
}
